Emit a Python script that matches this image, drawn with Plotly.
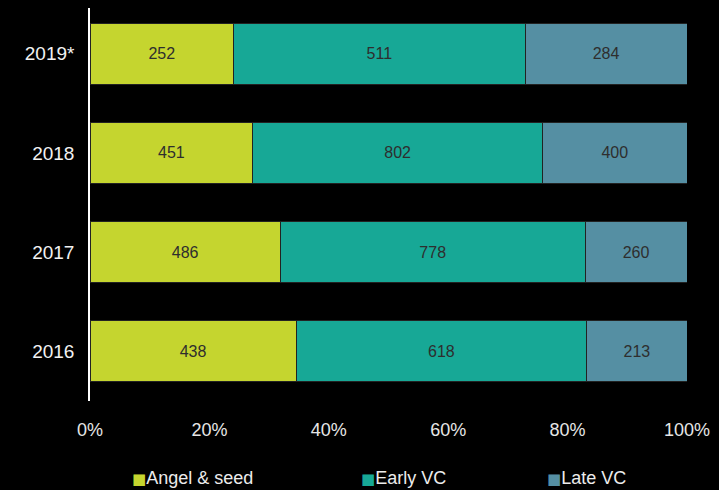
import plotly.graph_objects as go

years = ["2016", "2017", "2018", "2019*"]
angel_seed = [438, 486, 451, 252]
early_vc = [618, 778, 802, 511]
late_vc = [213, 260, 400, 284]

names = ["Angel & seed", "Early VC", "Late VC"]
colors = ["#c5d52f", "#17a896", "#558fa3"]
values = [angel_seed, early_vc, late_vc]
# left edge of each legend key, in pixels from the left of the figure
legend_px = [130, 359, 545]

font = "Liberation Sans, Arial, sans-serif"

fig = go.Figure()
for name, vals, color in zip(names, values, colors):
    fig.add_trace(go.Bar(
        y=years, x=vals, name=name, orientation="h",
        marker=dict(color=color, line=dict(color="#222222", width=1)),
        text=[str(v) for v in vals], textposition="inside",
        insidetextanchor="middle", textangle=0,
        textfont=dict(family=font, size=16, color="#2e2e2e"),
        showlegend=False, hoverinfo="skip",
    ))

# legend keys drawn as text under the axis
plot_left, plot_w = 90, 597
for name, color, px in zip(names, colors, legend_px):
    fig.add_annotation(
        xref="paper", yref="paper", x=(px - plot_left) / plot_w, y=-0.196,
        xanchor="left", yanchor="middle", showarrow=False,
        text=f"<span style='color:{color};font-family:DejaVu Sans;font-size:15px'>■</span>{name}",
        font=dict(family=font, size=18, color="#ececec"),
    )

fig.update_layout(
    width=719, height=490,
    paper_bgcolor="#000000", plot_bgcolor="#000000",
    barmode="stack", barnorm="percent", bargap=0.385,
    margin=dict(l=90, r=32, t=8, b=89, autoexpand=False),
    showlegend=False,
    xaxis=dict(range=[0, 100], tickvals=[0, 20, 40, 60, 80, 100],
               ticktext=["0%", "20%", "40%", "60%", "80%", "100%"],
               showgrid=False, zeroline=False, showline=False,
               ticklabelstandoff=16,
               tickfont=dict(family=font, size=18, color="#e6e6e6")),
    yaxis=dict(range=[-0.5, 3.46], showgrid=False, zeroline=False,
               showline=True, linecolor="#ffffff", linewidth=1.5,
               ticks="", ticklabelstandoff=10,
               tickfont=dict(family=font, size=19, color="#f2f2f2")),
)

fig.write_html("out.html")
